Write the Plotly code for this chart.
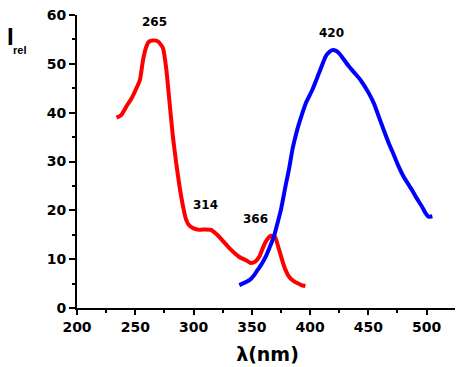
import plotly.graph_objects as go

# Absorption (red) spectrum
abs_x = [234, 238, 242.5, 247, 251, 254, 256.7, 259.6, 262, 265, 269.5, 273.8, 276.6, 279.5,
         282.3, 285.2, 288, 291, 293.5, 296, 300, 305, 310, 315, 322, 331, 339, 345, 349.3,
         353, 356.4, 359, 362, 366.4, 370, 373.5, 377.8, 382, 386, 389, 392.5, 396]
abs_y = [39.0, 39.5, 41.3, 43.0, 45.0, 46.7, 50.8, 53.6, 54.6, 54.8, 54.6, 53.2, 49.0, 41.9,
         35.1, 29.6, 24.9, 20.8, 18.2, 17.0, 16.3, 16.0, 16.1, 16.0, 14.6, 12.2, 10.5, 9.8, 9.2,
         9.5, 10.5, 12.0, 13.6, 14.8, 14.5, 11.9, 8.5, 6.4, 5.5, 5.1, 4.7, 4.5]

# Emission (blue) spectrum
em_x = [339.3, 344, 348, 352, 355, 358.5, 362, 365.5, 369, 372, 375, 379, 382, 385, 388,
        390.6, 396.3, 402, 407.7, 413.4, 416.5, 419.1, 422, 424.8, 429, 433.3, 438, 443.3,
        450.4, 455, 459, 463, 467.5, 472, 476, 481, 487.4, 491.5, 496, 499, 501.7, 505]
em_y = [4.7, 5.2, 5.7, 6.7, 7.8, 9.0, 10.5, 12.5, 14.6, 17.3, 20.1, 25.0, 28.5, 32.6, 35.6,
        37.8, 41.9, 44.7, 48.1, 51.5, 52.4, 52.8, 52.7, 52.2, 50.9, 49.5, 48.2, 46.7,
        44.0, 41.8, 39.2, 36.6, 33.8, 31.3, 29.0, 26.6, 24.2, 22.5, 20.8, 19.5, 18.7, 18.8]

peak_labels = ["265", "314", "366", "420"]
peak_x = [266.5, 310, 353.5, 418.5]
peak_y = [58.6, 21.1, 18.3, 56.3]

x_ticks = [200, 250, 300, 350, 400, 450, 500]
y_ticks = [0, 10, 20, 30, 40, 50, 60]

fig = go.Figure()
fig.add_trace(go.Scatter(x=abs_x, y=abs_y, mode="lines",
                         line=dict(color="#ff0000", width=4, shape="spline", smoothing=0.5),
                         showlegend=False))
fig.add_trace(go.Scatter(x=em_x, y=em_y, mode="lines",
                         line=dict(color="#0000ff", width=4, shape="spline", smoothing=0.5),
                         showlegend=False))

for t, xv, yv in zip(peak_labels, peak_x, peak_y):
    fig.add_annotation(x=xv, y=yv, text="<b>%s</b>" % t, showarrow=False,
                       font=dict(family="DejaVu Sans, Liberation Sans", size=12, color="black"),
                       xanchor="center", yanchor="middle")

# y-axis label: "I" with subscript "rel"
fig.add_annotation(xref="paper", yref="paper", x=-0.189, y=0.925,
                   text="<b>I</b>", showarrow=False,
                   xanchor="left", yanchor="middle",
                   font=dict(family="Liberation Sans, Arial", size=24, color="black"))
fig.add_annotation(xref="paper", yref="paper", x=-0.172, y=0.879,
                   text="<b>rel</b>", showarrow=False,
                   xanchor="left", yanchor="middle",
                   font=dict(family="Liberation Sans, Arial", size=11, color="black"))

axis_font = dict(family="DejaVu Sans, Liberation Sans", size=14, color="black")
fig.update_xaxes(range=[200, 527], tickvals=x_ticks, ticktext=["<b>%d</b>" % v for v in x_ticks],
                 tickfont=axis_font, showline=True, linecolor="black", linewidth=2,
                 ticks="outside", ticklen=5, tickwidth=2, tickcolor="black",
                 minor=dict(dtick=25, tick0=200, ticks="outside", ticklen=3, tickwidth=1.5, tickcolor="black"),
                 showgrid=False, zeroline=False, automargin=False, ticklabeloverflow="allow",
                 title=dict(text="<b>λ(nm)</b>", font=dict(family="DejaVu Sans, Liberation Sans", size=19, color="black"),
                            standoff=14))
fig.update_yaxes(range=[0, 60], tickvals=y_ticks, ticktext=["<b>%d</b>" % v for v in y_ticks],
                 tickfont=axis_font, showline=True, linecolor="black", linewidth=2,
                 ticks="outside", ticklen=6, tickwidth=2, tickcolor="black",
                 minor=dict(dtick=5, tick0=0, ticks="outside", ticklen=3, tickwidth=1.5, tickcolor="black"),
                 showgrid=False, zeroline=False, automargin=False, ticklabeloverflow="allow")

# page body has an 8px margin, so the figure is sized and placed to compensate
fig.update_layout(width=455, height=359, margin=dict(l=69, r=5, t=7, b=59),
                  plot_bgcolor="white", paper_bgcolor="white")

fig.write_html("out.html")
